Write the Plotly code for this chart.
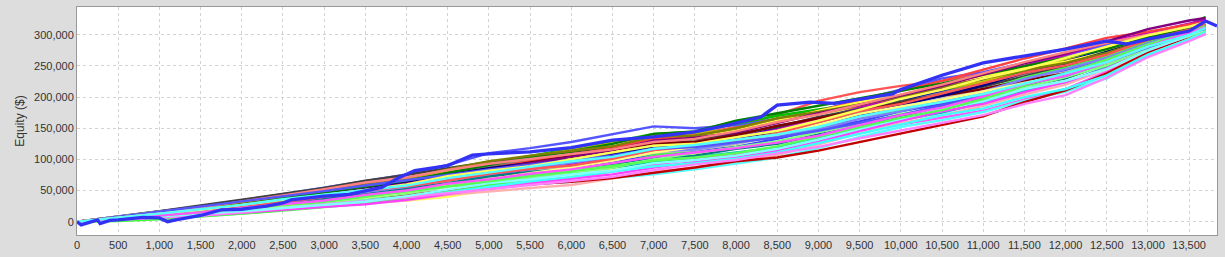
import plotly.graph_objects as go

# Trade number sample points (every 500 trades, last point = end of each simulation)
TRADES = [0, 500, 1000, 1500, 2000, 2500, 3000, 3500, 4000, 4500, 5000, 5500, 6000, 6500,
          7000, 7500, 8000, 8500, 9000, 9500, 10000, 10500, 11000, 11500, 12000, 12500,
          13000, 13500, 13700]

# Simulated equity curves, values in thousands of dollars
sim01 = [0,7,14,20,28,36,45,55,62,76,89,97,108,120,131,140,152,172,194,208,218,226,238,250,267,285,298,313,318]
sim02 = [0,8,17,25,34,44,54,65,76,91,110,118,128,141,153,150,155,165,178,196,212,230,240,255,268,283,297,310,316]
sim03 = [0,2,5,9,13,19,24,31,40,50,62,72,82,94,109,118,131,144,156,175,193,204,223,243,255,275,293,309,315]
sim04 = [0,7,13,18,21,25,27,30,34,40,51,63,72,84,98,108,124,142,160,181,200,216,234,248,261,277,296,309,318]
sim05 = [0,3,6,11,16,21,26,30,37,48,59,65,69,81,91,101,108,115,130,144,156,167,178,196,213,241,269,292,303]
sim06 = [0,5,9,13,18,25,31,36,42,49,55,60,64,70,76,84,94,103,118,136,152,163,176,194,209,230,266,295,307]
sim07 = [0,4,7,11,16,20,25,29,34,43,49,54,59,69,80,87,97,107,124,142,158,171,186,204,220,245,273,295,304]
sim08 = [0,7,15,22,31,39,48,57,67,78,87,98,105,113,124,130,138,148,164,181,193,208,221,237,249,270,291,311,317]
sim09 = [0,6,11,15,21,26,32,37,43,50,56,60,64,70,78,87,97,103,114,128,142,155,169,192,211,238,272,297,308]
sim10 = [0,6,12,18,26,35,41,52,58,71,80,91,95,108,119,127,134,150,166,179,195,210,227,247,259,278,297,314,321]
sim11 = [0,6,13,21,28,38,47,58,68,82,94,106,117,128,141,144,157,170,180,190,200,212,225,241,253,268,288,316,329]
sim12 = [0,7,14,22,29,38,47,58,68,80,93,104,115,126,139,142,148,160,172,185,200,212,225,245,261,280,300,314,320]
sim13 = [0,6,12,20,26,34,40,45,54,66,73,83,92,104,115,121,134,148,164,183,199,214,232,250,268,288,303,319,324]
sim14 = [0,5,10,16,22,28,35,41,48,58,66,75,80,87,96,104,111,119,134,148,163,175,191,211,224,248,279,300,311]
sim15 = [0,8,17,26,35,44,54,66,75,86,96,104,112,120,132,133,141,152,168,181,193,204,217,233,249,266,288,306,314]
sim16 = [0,6,12,19,27,37,44,54,63,74,86,97,107,118,133,138,146,162,178,194,210,226,244,262,278,295,305,316,321]
sim17 = [0,4,10,14,21,29,34,42,51,60,70,80,85,96,106,113,120,133,148,161,177,189,205,225,242,260,284,303,313]
sim18 = [0,1,4,8,13,18,23,29,37,48,59,69,79,91,106,115,125,138,150,167,179,194,211,231,247,265,290,307,314]
sim19 = [0,8,16,22,29,37,43,50,59,69,82,92,102,113,128,135,146,162,178,192,204,220,234,247,257,272,294,312,319]
sim20 = [0,4,7,10,14,19,24,28,35,45,54,62,69,76,87,96,103,113,128,146,162,177,189,208,224,246,276,298,307]
sim21 = [0,5,9,13,19,25,29,34,40,47,56,65,72,81,89,94,101,111,126,140,156,171,182,200,213,235,268,293,306]
sim22 = [0,6,12,18,25,32,39,45,52,63,72,81,90,98,111,115,125,138,154,167,183,198,211,227,240,258,285,305,315]
sim23 = [0,6,14,21,29,37,45,53,60,72,84,95,105,116,126,128,139,154,166,179,191,202,213,227,238,255,279,302,310]
sim24 = [0,6,13,20,28,37,46,54,63,76,86,94,99,110,120,121,132,142,158,171,187,202,219,239,253,273,293,312,320]
sim25 = [0,6,14,20,28,37,46,56,66,79,91,103,113,125,141,145,162,174,186,198,210,222,236,250,263,277,296,311,317]
sim26 = [0,7,15,23,31,41,51,60,70,84,97,106,113,121,137,138,150,166,176,188,200,216,230,243,255,271,292,309,315]
sim27 = [0,6,12,16,25,34,42,52,61,71,83,94,104,115,130,135,143,158,174,187,202,218,236,254,270,290,309,323,327]
sim28 = [0,5,11,15,23,30,36,44,53,62,73,80,85,93,102,106,117,125,140,153,169,185,197,217,230,253,281,304,313]
sim29 = [0,7,15,23,32,42,52,63,71,83,93,101,109,116,128,133,145,160,172,188,204,220,238,256,272,287,300,313,320]
sim30 = [0,5,12,18,25,31,40,48,56,67,76,86,95,103,113,116,127,137,148,165,177,193,209,229,245,263,286,305,314]
sim31 = [0,3,8,12,18,23,30,37,45,56,63,69,77,87,100,110,120,129,144,157,173,183,195,215,232,251,278,298,308]
sim32 = [0,5,9,14,20,26,32,39,48,58,69,78,87,98,111,120,131,140,156,173,185,196,209,223,236,255,282,301,311]
sim33 = [0,3,6,10,15,22,28,33,39,45,52,59,66,72,83,92,99,109,120,134,146,159,171,189,203,231,264,290,301]
sim34 = [0,4,8,12,17,22,27,32,41,52,62,68,76,82,94,99,106,117,132,149,165,181,193,213,226,245,275,299,310]
sim35 = [0,6,11,16,23,31,40,50,57,66,77,85,90,101,115,121,129,142,160,177,189,206,223,239,251,268,292,308,317]
sim36 = [0,8,16,24,33,41,49,58,66,75,84,92,99,106,117,120,127,135,146,159,171,187,201,221,234,256,280,302,310]
sim37 = [0,5,9,15,21,27,32,40,49,57,65,74,82,89,98,103,110,121,136,151,167,179,197,219,238,260,284,305,314]
sim38 = [0,7,13,19,27,34,43,51,60,73,82,89,100,111,122,125,136,146,162,179,197,212,230,245,263,282,299,313,320]
sim39 = [0,5,10,15,22,28,34,43,50,61,68,77,84,94,104,111,118,127,138,155,171,183,201,221,234,256,281,304,312]
sim40 = [0,6,13,20,27,36,43,51,58,70,79,88,97,104,117,123,131,140,152,169,181,192,205,221,238,256,281,300,311]

SIMS = [sim01, sim02, sim03, sim04, sim05, sim06, sim07, sim08, sim09, sim10,
        sim11, sim12, sim13, sim14, sim15, sim16, sim17, sim18, sim19, sim20,
        sim21, sim22, sim23, sim24, sim25, sim26, sim27, sim28, sim29, sim30,
        sim31, sim32, sim33, sim34, sim35, sim36, sim37, sim38, sim39, sim40]

# Original equity curve (thick blue), thousands of dollars
orig_trades = [0,50,150,250,280,400,500,700,800,1000,1100,1200,1500,1750,2000,2300,2500,2600,3000,3300,
               3500,3700,3900,4100,4500,4800,5000,5500,6000,6500,7000,7500,7900,8300,8500,8900,9200,9500,9900,10000,
               10500,11000,11500,12000,12500,12750,13000,13500,13700,13838]
orig_equity = [0,-5,-1,3,-3,2,3,6,7,6,0,3,10,19,20,25,30,35,41,44,
               49,55,70,82,90,107,109,112,119,131,136,144,155,168,187,192,190,197,205,212,
               235,255,266,277,290,285,293,306,322,314]

PALETTE = ["#FF5555", "#5555FF", "#55FF55", "#FFFF55", "#FF55FF", "#55FFFF", "#FFAFAF", "#808080",
           "#C00000", "#0000C0", "#00C000", "#C0C000", "#C000C0", "#00C0C0", "#404040", "#FF4040",
           "#4040FF", "#40FF40", "#FFFF40", "#FF40FF", "#40FFFF", "#C0C0C0", "#800000", "#000080",
           "#008000", "#808000", "#800080", "#008080", "#FF8080", "#8080FF", "#80FF80", "#FFFF80",
           "#FF80FF", "#80FFFF"]

fig = go.Figure()
for k, s in enumerate(SIMS):
    fig.add_trace(go.Scatter(x=TRADES, y=[v * 1000 for v in s], mode="lines",
                             line=dict(color=PALETTE[k % len(PALETTE)], width=2.4),
                             hoverinfo="skip"))
fig.add_trace(go.Scatter(x=orig_trades, y=[v * 1000 for v in orig_equity], mode="lines",
                         line=dict(color="#3232F5", width=3.3), hoverinfo="skip"))

axis_common = dict(showgrid=True, gridcolor="#D2D2D2", griddash="3px,3px", gridwidth=1,
                   showline=True, linecolor="#999999", linewidth=1, mirror=True,
                   zeroline=False, ticks="", tickfont=dict(family="Liberation Sans, Arial", size=11, color="#333333"),
                   tickformat=",d")

fig.update_layout(
    width=1225, height=257,
    margin=dict(l=77, r=8, t=6, b=21),
    paper_bgcolor="#DDDDDD", plot_bgcolor="white",
    showlegend=False,
    xaxis=dict(range=[0, 13838], tick0=0, dtick=500, **axis_common),
    yaxis=dict(range=[-21350, 344600], tick0=0, dtick=50000,
               title=dict(text="Equity ($)", font=dict(family="Liberation Sans, Arial", size=12, color="#333333"),
                          standoff=6),
               **axis_common),
)

fig.write_html("out.html")
